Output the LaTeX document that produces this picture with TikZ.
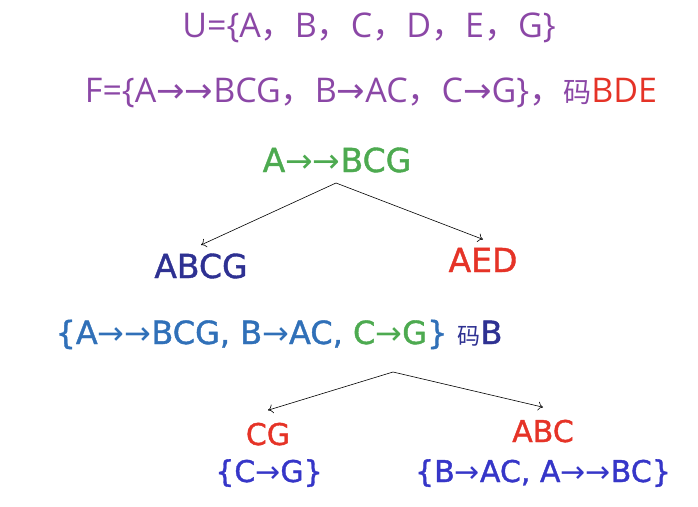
\documentclass[tikz,border=0pt]{standalone}
\usepackage{fontspec}
\setmainfont{DejaVu Sans}[FakeBold=1.2]
\newfontfamily\topfont{Open Sans}
\newfontfamily\cjk{Noto Sans CJK SC}
\newfontfamily\arrfont{DejaVu Sans}
\usepackage{tikz}
\usetikzlibrary{arrows,arrows.meta,positioning}
\definecolor{setpurple}{RGB}{139,71,166}
\definecolor{keyred}{RGB}{229,51,39}
\definecolor{fdgreen}{RGB}{77,170,80}
\definecolor{fdblue}{RGB}{48,112,184}
\definecolor{attrnavy}{RGB}{46,49,146}
\definecolor{subblue}{RGB}{54,54,200}
\newcommand{\rarr}{{\arrfont →}}
\newcommand{\zcomma}{{\cjk ，}}
\tikzset{
  toptext/.style={anchor=base,font=\topfont\fontsize{34}{38}\selectfont,text=setpurple,inner sep=0pt},
  treetext/.style={anchor=base,font=\fontsize{33}{37}\selectfont},
  subtext/.style={anchor=base,font=\fontsize{30}{34}\selectfont},
  split/.style={-{To[length=5pt,width=9pt]},black,line width=0.6pt}
}
\begin{document}
\begin{tikzpicture}[x=1pt,y=-1pt]
\useasboundingbox (0,0) rectangle (698,506);
% given relation
\node[toptext] (U) at (369,37) {U=\{A\zcomma B\zcomma C\zcomma D\zcomma E\zcomma G\}};
\node[toptext] (F) at (371,102) {F=\{A\rarr\rarr BCG\zcomma B\rarr AC\zcomma C\rarr G\}\zcomma {\cjk\fontsize{28}{32}\selectfont 码}\textcolor{keyred}{BDE}};
% first split
\node[treetext,text=fdgreen] (fd1) at (337,172) {A\rarr\rarr BCG};
\coordinate (split1) at (336,183);
\node[treetext,text=attrnavy] (ABCG) at (201,278) {ABCG};
\node[treetext,text=keyred] (AED) at (483,272) {AED};
\draw[split] (split1) -- ([yshift=5pt]ABCG.north);
\draw[split] (split1) -- ([yshift=5pt]AED.north);
% second split
\node[treetext,text=fdblue,font=\fontsize{32}{36}\selectfont] (fdset) at (279,344) {\{A\rarr\rarr BCG, B\rarr AC, \textcolor{fdgreen}{C\rarr G}\} \textcolor{attrnavy}{{\cjk\fontsize{23}{27}\selectfont 码}B}};
\coordinate (split2) at (393,372);
\node[subtext,text=keyred] (CG) at (268,445) {CG};
\node[subtext,text=keyred] (ABC) at (543,442) {ABC};
\node[subtext,text=subblue] (fdCG) at (269,482) {\{C\rarr G\}};
\node[subtext,text=subblue] (fdABC) at (543,482) {\{B\rarr AC, A\rarr\rarr BC\}};
\draw[split] (split2) -- ([yshift=9pt]CG.north);
\draw[split] (split2) -- ([yshift=9pt]ABC.north);
\end{tikzpicture}
\end{document}
